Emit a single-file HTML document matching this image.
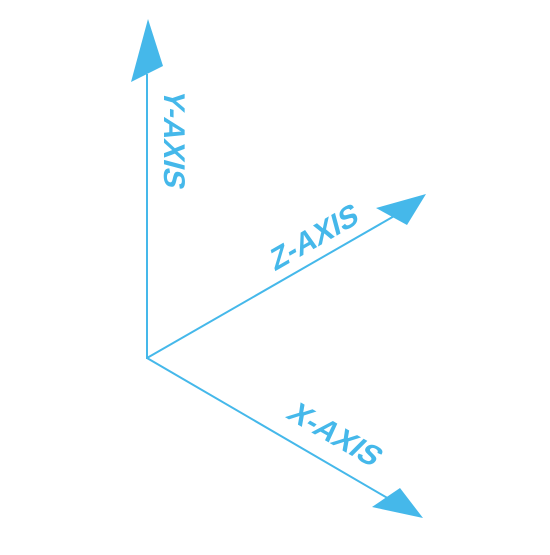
<!DOCTYPE html>
<html><head><style>html,body{margin:0;padding:0;background:#fff}</style></head>
<body>
<svg width="550" height="550" viewBox="0 0 550 550" font-family="Liberation Sans, sans-serif" font-weight="bold">
<g stroke="#45b8ea" stroke-width="2" fill="none">
<line x1="147" y1="359" x2="147" y2="74"/>
<line x1="147" y1="358" x2="396" y2="215"/>
<line x1="147" y1="358" x2="396" y2="503"/>
</g>
<g fill="#45b8ea">
<polygon points="148,19 131,82 163,66"/>
<polygon points="426,194 376,208 407,225"/>
<polygon points="423,518 372,507 400,488"/>
<text font-size="30" text-anchor="middle" transform="translate(164,137) rotate(90) skewX(-15)">Y-AXIS</text>
<text font-size="30" text-anchor="middle" transform="translate(317,247) rotate(-30) skewX(-15)">Z-AXIS</text>
<text font-size="30" text-anchor="middle" transform="translate(328,442) rotate(30) skewX(-15)">X-AXIS</text>
</g>
</svg>
</body></html>
